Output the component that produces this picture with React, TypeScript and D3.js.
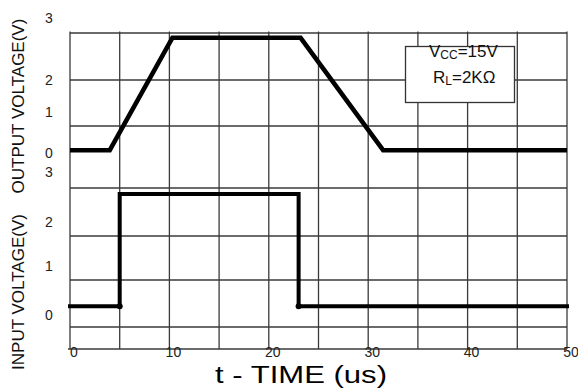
import React from "react";
import * as d3 from "d3";

// time axis (us)
const timeTicks = [0, 10, 20, 30, 40, 50];
const gridTimes = d3.range(0, 55, 5);

// output voltage waveform
const outTime = [0, 4, 10.3, 23.2, 31.5, 50];
const outVolt = [0.07, 0.07, 2.68, 2.68, 0.07, 0.07];

// input voltage waveform (step)
const inTime = [0, 5, 5, 23, 23, 50];
const inVolt = [0.18, 0.18, 2.56, 2.56, 0.18, 0.18];
const inDots = [5, 23];

const voltTicks = [0, 1, 2, 3];

const W = 578;
const H = 391;
const font = "'Liberation Sans', Arial, sans-serif";

// horizontal grid rows (pixel layout of the scanned grid)
const gridRows = [33, 80, 126, 188, 236, 280, 327];
const top = 33;
const bottom = 349;

export default function App() {
  const x = d3.scaleLinear().domain([0, 50]).range([70, 567]);
  // the scanned axis labels are unevenly spaced, so polylinear scales
  const yOut = d3.scaleLinear().domain(voltTicks).range([153, 112, 80, 18]);
  const yIn = d3.scaleLinear().domain(voltTicks).range([315, 266, 222, 172]);

  const outLine = d3
    .line<number>()
    .x((d, i) => x(outTime[i]))
    .y((d) => yOut(d));
  const inLine = d3
    .line<number>()
    .x((d, i) => x(inTime[i]))
    .y((d) => yIn(d));

  const gridColor = "#3a3a3a";

  return (
    <svg
      width={W}
      height={H}
      style={{ position: "absolute", left: 0, top: 0, background: "#fff" }}
      fontFamily={font}
    >
      {/* grid */}
      <g stroke={gridColor} strokeWidth={1.3}>
        {gridTimes.map((t) => (
          <line key={"v" + t} x1={x(t)} x2={x(t)} y1={top - 1.5} y2={bottom} />
        ))}
        {gridRows.map((y) => (
          <line key={"h" + y} x1={x(0)} x2={x(50)} y1={y} y2={y} />
        ))}
        <line x1={x(0) - 2} x2={x(50)} y1={bottom} y2={bottom} />
      </g>

      {/* x tick labels */}
      <g fontSize={14} fill="#222" textAnchor="middle">
        {timeTicks.map((t) => (
          <text key={t} x={x(t) + 4} y={357}>
            {t}
          </text>
        ))}
      </g>

      {/* y tick labels */}
      <g fontSize={14} fill="#222" textAnchor="middle" dominantBaseline="central">
        {voltTicks.map((v) => (
          <text key={"o" + v} x={49} y={yOut(v)}>
            {v}
          </text>
        ))}
        {voltTicks.map((v) => (
          <text key={"i" + v} x={49} y={yIn(v)}>
            {v}
          </text>
        ))}
      </g>

      {/* waveforms */}
      <path
        d={outLine(outVolt) || ""}
        fill="none"
        stroke="#000"
        strokeWidth={4.5}
        strokeLinejoin="miter"
      />
      <path
        d={inLine(inVolt) || ""}
        fill="none"
        stroke="#000"
        strokeWidth={4}
        strokeLinejoin="miter"
        strokeLinecap="square"
      />
      {inDots.map((t) => (
        <circle key={t} cx={x(t)} cy={yIn(inVolt[0])} r={3} fill="#000" />
      ))}

      {/* legend box */}
      <rect x={405.5} y={46.5} width={109} height={56} fill="#fff" stroke="#333" strokeWidth={1.3} />
      <text x={429} y={57} fontSize={17} fill="#111">
        V
        <tspan fontSize={12} dy={2}>CC</tspan>
        <tspan dy={-2}>=15V</tspan>
      </text>
      <text x={433} y={82.5} fontSize={17} fill="#111">
        R
        <tspan fontSize={12} dy={2}>L</tspan>
        <tspan dy={-2}>=2KΩ</tspan>
      </text>

      {/* axis titles */}
      <text
        transform={`translate(24,106) rotate(-90)`}
        textAnchor="middle"
        fontSize={17}
        fill="#111"
      >
        OUTPUT VOLTAGE(V)
      </text>
      <text
        transform={`translate(24,292) rotate(-90)`}
        textAnchor="middle"
        fontSize={17}
        fill="#111"
      >
        INPUT VOLTAGE(V)
      </text>
      <text
        x={215}
        y={383}
        fontSize={23}
        fill="#000"
        textLength={172}
        lengthAdjust="spacingAndGlyphs"
      >
        t - TIME (us)
      </text>
    </svg>
  );
}
